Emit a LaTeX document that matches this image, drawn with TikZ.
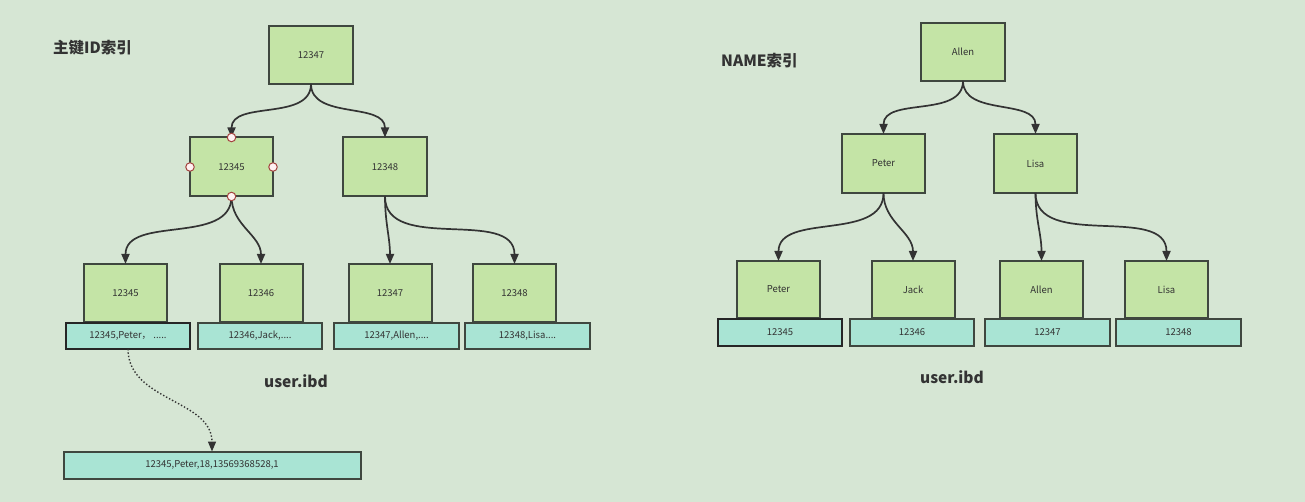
\documentclass[tikz,border=0pt]{standalone}
\usepackage{fontspec}
\setmainfont{Noto Sans CJK SC}
\usetikzlibrary{arrows.meta}
\definecolor{bgc}{HTML}{D6E6D4}
\definecolor{boxf}{HTML}{C4E4A6}
\definecolor{barf}{HTML}{A9E4D4}
\definecolor{bord}{HTML}{3F473F}
\definecolor{txt}{HTML}{333333}
\definecolor{hand}{HTML}{A4443F}
\tikzset{
  keybox/.style={draw=bord, fill=boxf, line width=2pt, inner sep=0pt, outer sep=0pt,
     minimum width=83pt, minimum height=58pt, font=\fontsize{9.5}{10}\selectfont, text=txt},
  recbar/.style={draw=bord, fill=barf, line width=2pt, inner sep=0pt, outer sep=0pt,
     minimum width=124pt, minimum height=26pt, font=\fontsize{9.5}{10}\selectfont, text=txt},
  selbar/.style={recbar, draw=black!85, line width=2.6pt},
  edge/.style={draw=black!80, line width=1.7pt, -{Triangle[length=10pt,width=8pt]}},
  ptr/.style={draw=black!80, line width=1.4pt, dotted, -{Triangle[length=10pt,width=8pt]}},
  heading/.style={font=\fontsize{15.5}{17}\selectfont\bfseries, text=txt, inner sep=0pt},
  handle/.style={circle, draw=hand, fill=white!95!red, line width=1pt, minimum size=8.5pt, inner sep=0pt}
}
\begin{document}
\begin{tikzpicture}[x=1pt,y=-1pt]
\fill[bgc] (0,0) rectangle (1305,502);
\useasboundingbox (0,0) rectangle (1305,502);

% ---------- left tree ----------
\node[heading, anchor=west] (t1) at (53,48) {主键ID索引};
\node[keybox, minimum width=84pt] (r) at (311,55) {12347};
\node[keybox, minimum height=59pt] (ma) at (231.5,167) {12345};
\node[keybox, minimum width=84pt, minimum height=59pt] (mb) at (385,167) {12348};
\node[keybox] (la) at (125.5,293) {12345};
\node[keybox] (lb) at (261,293) {12346};
\node[keybox] (lc) at (390,293) {12347};
\node[keybox] (ld) at (514.5,293) {12348};
\node[selbar] (ba) at (128,336) {12345,Peter，  .....};
\node[recbar] (bb) at (260,336) {12346,Jack,....};
\node[recbar, minimum width=125pt] (bc) at (396.5,336) {12347,Allen,....};
\node[recbar, minimum width=125pt] (bd) at (527.5,336) {12348,Lisa....};
\node[heading] (u1) at (296,381) {user.ibd};
\node[recbar, minimum width=297pt, minimum height=27pt] (full) at (212,465) {12345,Peter,18,13569368528,1};

\draw[edge] (r.south) to[out=-90,in=90] (ma.north);
\draw[edge] (r.south) to[out=-90,in=90] (mb.north);
\draw[edge] (ma.south) to[out=-90,in=90] (la.north);
\draw[edge] (ma.south) to[out=-90,in=90] (lb.north);
\draw[edge] (mb.south) to[out=-90,in=90] (lc.north);
\draw[edge] (mb.south) to[out=-90,in=90] (ld.north);
\draw[ptr] (ba.south) to[out=-90,in=90] (full.north);

\node[handle] (h1) at (ma.north) {};
\node[handle] (h2) at (ma.south) {};
\node[handle] (h3) at (ma.west) {};
\node[handle] (h4) at (ma.east) {};

% ---------- right tree ----------
\node[heading, anchor=west] (t2) at (721,61) {NAME索引};
\node[keybox, minimum width=84pt] (rr) at (963,52) {Allen};
\node[keybox, minimum height=59pt] (pa) at (883.5,163.5) {Peter};
\node[keybox, minimum height=59pt] (pb) at (1035.5,163.5) {Lisa};
\node[keybox, minimum height=57pt] (qa) at (778.5,289.5) {Peter};
\node[keybox, minimum height=57pt] (qb) at (913,289.5) {Jack};
\node[keybox, minimum height=57pt] (qc) at (1041.5,289.5) {Allen};
\node[keybox, minimum height=57pt] (qd) at (1166.5,289.5) {Lisa};
\node[selbar, minimum height=27pt] (ca) at (780,332.5) {12345};
\node[recbar, minimum height=27pt] (cb) at (912,332.5) {12346};
\node[recbar, minimum width=125pt, minimum height=27pt] (cc) at (1047.5,332.5) {12347};
\node[recbar, minimum width=125pt, minimum height=27pt] (cd) at (1178.5,332.5) {12348};
\node[heading] (u2) at (952,377) {user.ibd};

\draw[edge] (rr.south) to[out=-90,in=90] (pa.north);
\draw[edge] (rr.south) to[out=-90,in=90] (pb.north);
\draw[edge] (pa.south) to[out=-90,in=90] (qa.north);
\draw[edge] (pa.south) to[out=-90,in=90] (qb.north);
\draw[edge] (pb.south) to[out=-90,in=90] (qc.north);
\draw[edge] (pb.south) to[out=-90,in=90] (qd.north);
\end{tikzpicture}
\end{document}
